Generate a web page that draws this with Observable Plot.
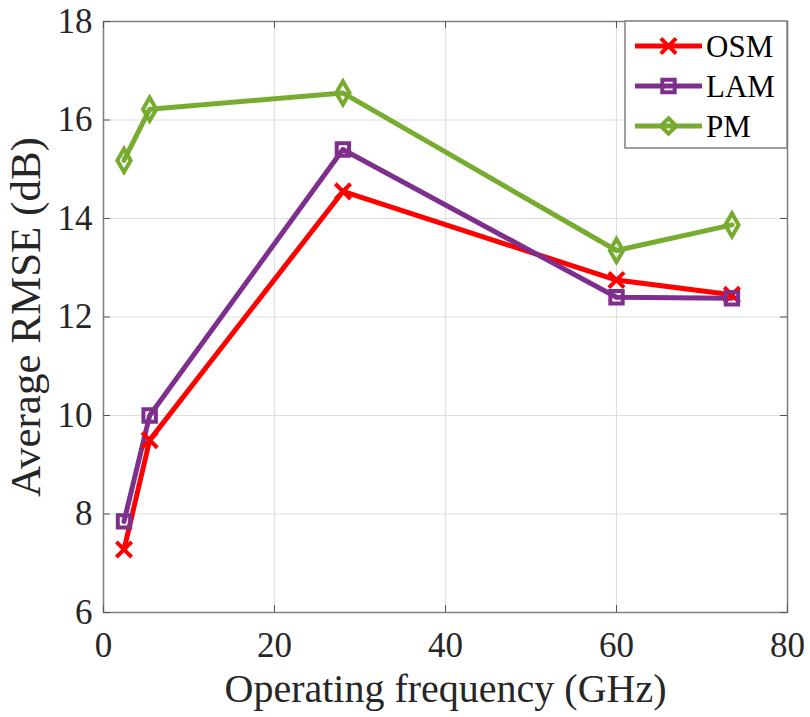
<!DOCTYPE html>
<html><head><meta charset="utf-8">
<script src="https://cdn.jsdelivr.net/npm/d3@7"></script>
<script src="https://cdn.jsdelivr.net/npm/@observablehq/plot@0.6"></script>
<style>body{margin:0;background:#fff} #wrap{width:810px;height:717px}</style>
</head><body><div id="wrap"></div>
<script>
const freqs = [2.4, 5.4, 28, 60, 73.5];
const osm = [7.28, 9.5, 14.55, 12.75, 12.45];
const lam = [7.85, 10.0, 15.4, 12.4, 12.38];
const pm = [15.18, 16.22, 16.55, 13.35, 13.87];
const seriesNames = ["OSM", "LAM", "PM"];
const colors = ["#ff0000", "#7e2f8e", "#77ac30"];
const symbols = ["times", "square", "diamond"];
const xTicks = [0, 20, 40, 60, 80];
const yTicks = [6, 8, 10, 12, 14, 16, 18];

const seriesVals = [osm, lam, pm];
const data = [];
seriesNames.forEach((s, i) => freqs.forEach((f, j) => data.push({series: s, f, v: seriesVals[i][j]})));

const W = 810, H = 717, mL = 103, mR = 23, mT = 21, mB = 105;
const fw = W - mL - mR, fh = H - mT - mB;
const tickLen = 7;
const axisColor = "#808080";

const plot = Plot.plot({
  width: W, height: H,
  marginLeft: mL, marginRight: mR, marginTop: mT, marginBottom: mB,
  x: {domain: [0, 80]},
  y: {domain: [6, 18]},
  color: {domain: seriesNames, range: colors},
  symbol: {domain: seriesNames, range: symbols},
  style: {fontFamily: "'Liberation Serif', 'Times New Roman', serif", color: "#262626", background: "#fff"},
  marks: [
    Plot.gridX(xTicks, {stroke: "#dedede", strokeOpacity: 1, strokeWidth: 1.2}),
    Plot.gridY(yTicks, {stroke: "#dedede", strokeOpacity: 1, strokeWidth: 1.2}),
    Plot.frame({stroke: axisColor, strokeWidth: 1.5}),
    Plot.tickX(xTicks, {x: d => d, insetTop: fh - tickLen, stroke: "#555"}),
    Plot.tickX(xTicks, {x: d => d, insetBottom: fh - tickLen, stroke: "#555"}),
    Plot.tickY(yTicks, {y: d => d, insetRight: fw - tickLen, stroke: "#555"}),
    Plot.tickY(yTicks, {y: d => d, insetLeft: fw - tickLen, stroke: "#555"}),
    Plot.axisX({ticks: xTicks, tickSize: 0, tickPadding: 20, fontSize: 35,
      label: "Operating frequency (GHz)", labelAnchor: "center", labelArrow: "none", labelOffset: 89}),
    Plot.axisY({ticks: yTicks, tickSize: 0, tickPadding: 11, fontSize: 35,
      label: "Average RMSE (dB)", labelAnchor: "center", labelArrow: "none", labelOffset: 94}),
    Plot.line(data, {x: "f", y: "v", z: "series", stroke: "series", strokeWidth: 5, strokeLinejoin: "round"}),
    Plot.dot(data, {x: "f", y: "v", stroke: "series", symbol: "series", r: 7, strokeWidth: 4, fill: "none"})
  ]
});

d3.select(plot).selectAll("g[aria-label='x-axis label'] text").attr("font-size", 40);
d3.select(plot).selectAll("g[aria-label='y-axis label'] text").attr("font-size", 43);

// Legend inside the axes (top-right)
const svg = d3.select(plot);
const lx = 625, ly = mT, lw = W - mR - lx, lh = 127;
const lg = svg.append("g").attr("aria-label", "legend");
lg.append("rect").attr("x", lx).attr("y", ly).attr("width", lw).attr("height", lh)
  .attr("fill", "#fff").attr("stroke", axisColor).attr("stroke-width", 1.5);
const rowY = [46, 86, 126];
const symMap = {times: d3.symbolTimes, square: d3.symbolSquare, diamond: d3.symbolDiamond2};
seriesNames.forEach((s, i) => {
  const y = rowY[i];
  lg.append("line").attr("x1", 635).attr("x2", 702).attr("y1", y).attr("y2", y)
    .attr("stroke", colors[i]).attr("stroke-width", 5);
  lg.append("path").attr("transform", `translate(668.5,${y})`)
    .attr("d", d3.symbol(symMap[symbols[i]], Math.PI * 49)())
    .attr("fill", "none").attr("stroke", colors[i]).attr("stroke-width", 4);
  lg.append("text").attr("x", 706).attr("y", y).attr("dy", "0.35em")
    .attr("text-anchor", "start").attr("font-size", 31).attr("fill", "#000").text(s);
});

document.getElementById("wrap").appendChild(plot);
</script>
</body></html>
